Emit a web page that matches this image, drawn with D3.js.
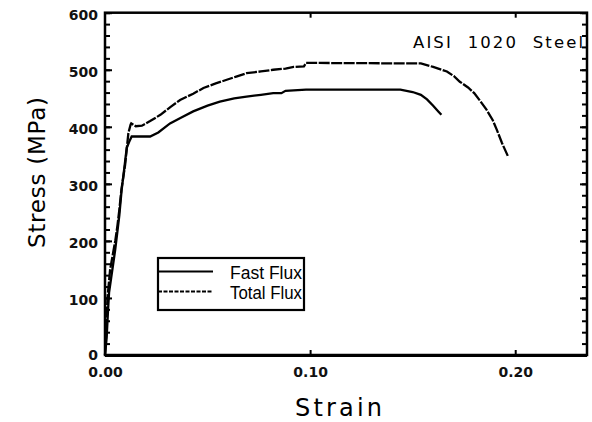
<!DOCTYPE html>
<html>
<head>
<meta charset="utf-8">
<script src="https://cdn.jsdelivr.net/npm/d3@7"></script>
<style>
  body { margin: 0; background: #fff; }
  svg { display: block; }
  .tick text { font-family: "DejaVu Sans", sans-serif; font-size: 14px; font-weight: bold; fill: #111; }
</style>
</head>
<body>
<div id="chart"></div>
<script>
// strain / stress (MPa)
const fastFlux = [
  [0, 0], [0.0008, 30], [0.0015, 80], [0.002, 110], [0.003, 135], [0.004, 160],
  [0.005, 185], [0.006, 215], [0.007, 245], [0.0081, 289], [0.0095, 330],
  [0.0106, 363], [0.0122, 377], [0.013, 383], [0.022, 383], [0.026, 390],
  [0.0317, 406], [0.037, 416], [0.043, 427], [0.05, 437], [0.056, 444],
  [0.063, 450], [0.069, 453], [0.076, 456], [0.082, 459], [0.086, 459],
  [0.088, 463], [0.098, 465], [0.144, 465], [0.150, 461], [0.154, 456],
  [0.157, 448], [0.160, 437], [0.1625, 427], [0.164, 421]
];
const totalFlux = [
  [0, 0], [0.0006, 40], [0.0012, 100], [0.0025, 150], [0.004, 180], [0.005, 200],
  [0.006, 225], [0.007, 255], [0.008, 290], [0.0098, 333], [0.0114, 389],
  [0.0125, 404], [0.0128, 406], [0.015, 401], [0.018, 402], [0.022, 410],
  [0.027, 421], [0.032, 435], [0.0366, 447], [0.043, 458], [0.048, 468],
  [0.054, 476], [0.059, 482], [0.064, 488], [0.069, 494], [0.076, 497],
  [0.082, 500], [0.088, 502], [0.092, 505], [0.097, 506], [0.098, 512],
  [0.154, 511], [0.16, 505], [0.1667, 497], [0.170, 489], [0.173, 479],
  [0.177, 469], [0.18, 459], [0.183, 445], [0.186, 430], [0.189, 412],
  [0.191, 395], [0.1935, 372], [0.1965, 348]
];
const yMajor = [0, 100, 200, 300, 400, 500, 600];
const yMinor = d3.range(0, 601, 20);
const xMajor = [0, 0.10, 0.20];
const xLabels = ["0.00", "0.10", "0.20"];
const legendNames = ["Fast Flux", "Total Flux"];

const width = 592, height = 422;
const margin = { top: 12.7, right: 5, bottom: 67, left: 105 };

const svg = d3.select('#chart').append('svg')
  .attr('width', width)
  .attr('height', height);

const x = d3.scaleLinear().domain([0, 0.235]).range([margin.left, width - margin.right]);
const y = d3.scaleLinear().domain([0, 600]).range([height - margin.bottom, margin.top]);

// y labels
svg.append('g')
  .attr('transform', `translate(${margin.left},0)`)
  .call(d3.axisLeft(y).tickValues(yMajor).tickSize(0).tickPadding(7))
  .call(g => g.select('.domain').remove())
  .selectAll('text').attr('dy', d => d === 0 ? '0.3em' : '0.5em');

// inner ticks left + right (minor every 20, major every 100)
function innerTicks(axisFn, xPos) {
  svg.append('g')
    .attr('transform', `translate(${xPos},0)`)
    .call(axisFn(y).tickValues(yMinor).tickSize(5).tickFormat(''))
    .call(g => g.select('.domain').remove())
    .selectAll('line').attr('stroke', '#000').attr('stroke-width', 2);
  svg.append('g')
    .attr('transform', `translate(${xPos},0)`)
    .call(axisFn(y).tickValues(yMajor).tickSize(7).tickFormat(''))
    .call(g => g.select('.domain').remove())
    .selectAll('line').attr('stroke', '#000').attr('stroke-width', 2);
}
innerTicks(d3.axisRight, margin.left);
innerTicks(d3.axisLeft, width - margin.right);

// x labels
svg.append('g')
  .attr('transform', `translate(0,${height - margin.bottom})`)
  .call(d3.axisBottom(x).tickValues(xMajor).tickSize(0).tickPadding(12)
    .tickFormat((d, i) => xLabels[i]))
  .call(g => g.select('.domain').remove());

// x inner ticks top and bottom
svg.append('g')
  .attr('transform', `translate(0,${height - margin.bottom})`)
  .call(d3.axisTop(x).tickValues([0.1, 0.2]).tickSize(5).tickFormat(''))
  .call(g => g.select('.domain').remove())
  .selectAll('line').attr('stroke-width', 2);
svg.append('g')
  .attr('transform', `translate(0,${margin.top})`)
  .call(d3.axisBottom(x).tickValues([0.1, 0.2]).tickSize(5).tickFormat(''))
  .call(g => g.select('.domain').remove())
  .selectAll('line').attr('stroke-width', 2);

// frame
svg.append('rect')
  .attr('x', margin.left)
  .attr('y', margin.top)
  .attr('width', width - margin.left - margin.right)
  .attr('height', height - margin.top - margin.bottom)
  .attr('fill', 'none')
  .attr('stroke', '#000')
  .attr('stroke-width', 2.5);
svg.append('line')
  .attr('x1', margin.left).attr('x2', width - margin.right)
  .attr('y1', y(0) + 0.5).attr('y2', y(0) + 0.5)
  .attr('stroke', '#000').attr('stroke-width', 3);

const line = d3.line().x(d => x(d[0])).y(d => y(d[1]));

svg.append('path')
  .datum(fastFlux)
  .attr('d', line)
  .attr('fill', 'none')
  .attr('stroke', '#000')
  .attr('stroke-width', 2.3);

svg.append('path')
  .datum(totalFlux)
  .attr('d', line)
  .attr('fill', 'none')
  .attr('stroke', '#000')
  .attr('stroke-width', 2.3)
  .attr('stroke-dasharray', '11,1.5');

// legend
const leg = svg.append('g');
leg.append('rect')
  .attr('x', 158).attr('y', 258)
  .attr('width', 146).attr('height', 52)
  .attr('fill', '#fff')
  .attr('stroke', '#000')
  .attr('stroke-width', 2.2);
legendNames.forEach((name, i) => {
  const ly = 271.5 + i * 20;
  leg.append('line')
    .attr('x1', 158).attr('x2', 213)
    .attr('y1', ly).attr('y2', ly)
    .attr('stroke', '#000')
    .attr('stroke-width', 2.2)
    .attr('stroke-dasharray', i === 1 ? '4,1.5' : null);
  leg.append('text')
    .attr('x', 230).attr('y', ly + 7)
    .attr('font-family', '"Liberation Sans", Arial, sans-serif')
    .attr('font-size', 17.5)
    .attr('textLength', 72)
    .attr('lengthAdjust', 'spacingAndGlyphs')
    .text(name);
});

// labels
svg.append('text')
  .attr('x', 413).attr('y', 48)
  .attr('font-family', '"DejaVu Sans", sans-serif')
  .attr('font-size', 16.5)
  .attr('textLength', 170)
  .attr('lengthAdjust', 'spacing')
  .attr('xml:space', 'preserve')
  .text('AISI  1020  Steel');

svg.append('text')
  .attr('x', 295).attr('y', 416)
  .attr('font-family', '"DejaVu Sans", sans-serif')
  .attr('font-size', 24)
  .attr('textLength', 87)
  .attr('lengthAdjust', 'spacing')
  .text('Strain');

svg.append('text')
  .attr('transform', 'translate(45,248) rotate(-90)')
  .attr('font-family', '"DejaVu Sans", sans-serif')
  .attr('font-size', 23)
  .attr('textLength', 151)
  .attr('lengthAdjust', 'spacing')
  .text('Stress (MPa)');
</script>
</body>
</html>
